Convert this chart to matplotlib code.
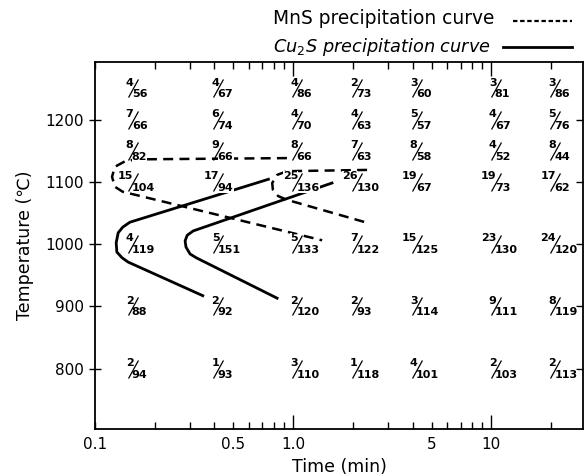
import numpy as np
import matplotlib.pyplot as plt
import matplotlib.lines as mlines
from matplotlib.lines import Line2D
from matplotlib.path import Path
from matplotlib.ticker import FixedLocator, NullFormatter

# counts at each (time, temperature) cell: numerator / denominator
times = [0.155, 0.42, 1.05, 2.1, 4.2, 10.5, 21.0]
temps = [1250, 1200, 1150, 1100, 1000, 900, 800]

numer = [
    [4, 4, 4, 2, 3, 3, 3],
    [7, 6, 4, 4, 5, 4, 5],
    [8, 9, 8, 7, 8, 4, 8],
    [15, 17, 25, 26, 19, 19, 17],
    [4, 5, 5, 7, 15, 23, 24],
    [2, 2, 2, 2, 3, 9, 8],
    [2, 1, 3, 1, 4, 2, 2],
]
denom = [
    [56, 67, 86, 73, 60, 81, 86],
    [66, 74, 70, 63, 57, 67, 76],
    [82, 66, 66, 63, 58, 52, 44],
    [104, 94, 136, 130, 67, 73, 62],
    [119, 151, 133, 122, 125, 130, 120],
    [88, 92, 120, 93, 114, 111, 119],
    [94, 93, 110, 118, 101, 103, 113],
]

# Cu2S precipitation curves (solid)
cu_t1 = [0.75, 0.15, 0.138, 0.131, 0.128, 0.129, 0.137, 0.147, 0.35]
cu_T1 = [1104, 1035, 1027, 1018, 1002, 987, 978, 971, 917]
cu_t2 = [1.57, 0.313, 0.292, 0.285, 0.288, 0.302, 0.324, 0.83]
cu_T2 = [1098, 1021, 1014, 1005, 995, 984, 978, 913]

# MnS precipitation curves (dashed)
mn_t1 = [0.93, 0.163, 0.142, 0.126, 0.122, 0.126, 0.138, 1.40]
mn_T1 = [1138, 1136, 1133, 1124, 1108, 1092, 1084, 1006]
mn_t2 = [2.36, 0.93, 0.83, 0.784, 0.79, 0.84, 0.93, 2.31]
mn_T2 = [1119, 1117, 1111, 1098, 1087, 1077, 1071, 1035]

fig = plt.figure(figsize=(5.86, 4.75), dpi=100)
ax = fig.add_axes([0.162, 0.097, 0.833, 0.772])

ax.set_xscale('log')
ax.set_xlim(0.1, 29)
ax.set_ylim(703, 1292)

dash = (0, (4, 2.5))
ax.plot(cu_t1, cu_T1, color='black', lw=2.0, zorder=2, solid_joinstyle='round')
ax.plot(cu_t2, cu_T2, color='black', lw=2.0, zorder=2, solid_joinstyle='round')
ax.plot(mn_t1, mn_T1, color='black', lw=1.8, ls=dash, zorder=2)
ax.plot(mn_t2, mn_T2, color='black', lw=1.8, ls=dash, zorder=2)

# the fractions: small numerator, long slash, denominator
slash = Path([(-0.55, -1), (0.55, 1)], [Path.MOVETO, Path.LINETO])
frac_font = ['Liberation Sans Narrow', 'DejaVu Sans']
for i, T in enumerate(temps):
    for j, t in enumerate(times):
        ax.annotate(str(numer[i][j]), (t, T), xytext=(0.6, 0.4), textcoords='offset points',
                    ha='right', va='bottom', fontsize=8, fontweight='bold', family=frac_font,
                    zorder=4, bbox=dict(fc='white', ec='none', pad=0.1))
        ax.annotate(str(denom[i][j]), (t, T), xytext=(-0.6, -0.8), textcoords='offset points',
                    ha='left', va='top', fontsize=8, fontweight='bold', family=frac_font,
                    zorder=4, bbox=dict(fc='white', ec='none', pad=0.1))
    ax.plot(times, [T] * len(times), ls='none', marker=slash, markersize=13,
            markeredgewidth=0.9, color='black', zorder=5)

# x ticks
ax.xaxis.set_major_locator(FixedLocator([0.1, 0.5, 1.0, 5, 10]))
ax.set_xticklabels(['0.1', '0.5', '1.0', '5', '10'])
minors = [0.2, 0.3, 0.4, 0.6, 0.7, 0.8, 0.9, 2, 3, 4, 6, 7, 8, 9, 20]
ax.xaxis.set_minor_locator(FixedLocator(minors))
ax.xaxis.set_minor_formatter(NullFormatter())
ax.tick_params(axis='x', which='both', direction='in', top=True, bottom=True,
               labelsize=11, pad=6)
ax.tick_params(axis='x', which='major', length=5, width=1)
ax.tick_params(axis='x', which='minor', length=5, width=1)
for k, tk in enumerate(ax.xaxis.get_major_ticks()):
    if k in (2, 4):
        tk.tick1line.set_markersize(10)
        tk.tick2line.set_markersize(10)

ax.set_yticks([800, 900, 1000, 1100, 1200])
ax.tick_params(axis='y', direction='inout', length=8, width=1, right=True,
               labelsize=11, pad=4)
for tk in ax.yaxis.get_major_ticks():
    tk.tick2line.set_marker(mlines.TICKLEFT)
    tk.tick2line.set_markersize(5)

for s in ax.spines.values():
    s.set_linewidth(1.3)

ax.set_xlabel('Time (min)', fontsize=12.5, labelpad=4)
ax.set_ylabel('Temperature (℃)', fontsize=12.5, labelpad=8)

# legend text above the plot
fig.text(273 / 586, 1 - 18 / 475, 'MnS precipitation curve', fontsize=13.4,
         ha='left', va='center')
fig.text(273 / 586, 1 - 47 / 475, 'Cu$_2$S precipitation curve', fontsize=12.8,
         ha='left', va='center', style='italic')
fig.add_artist(Line2D([513 / 586, 572 / 586], [1 - 21 / 475, 1 - 21 / 475],
                      color='black', lw=1.6, ls=(0, (2, 1.2))))
fig.add_artist(Line2D([503 / 586, 572 / 586], [1 - 47 / 475, 1 - 47 / 475],
                      color='black', lw=2.0))

fig.savefig('out.png', dpi=100)
